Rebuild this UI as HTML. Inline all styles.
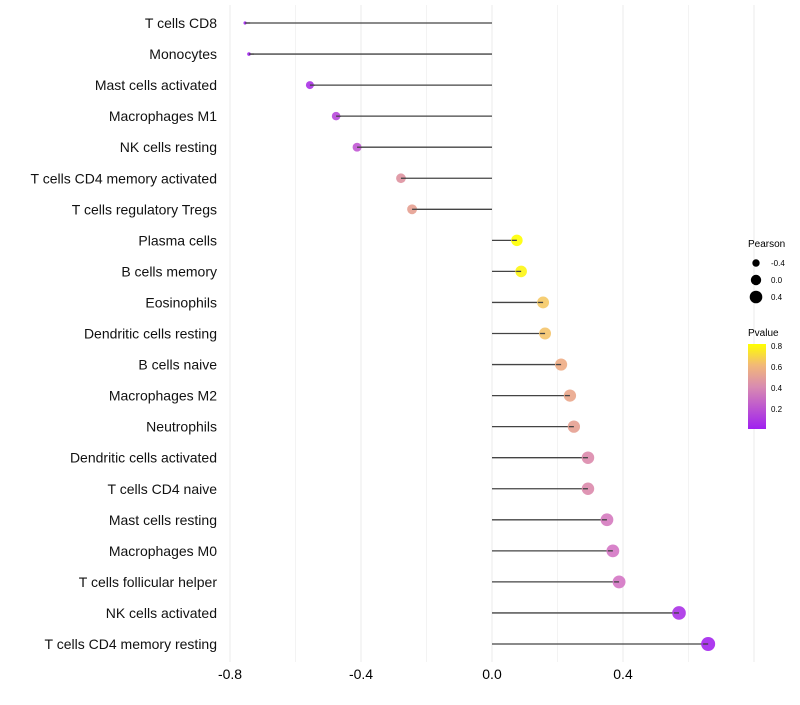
<!DOCTYPE html>
<html><head><meta charset="utf-8"><style>body{margin:0;background:#fff}svg text{font-family:"Liberation Sans",sans-serif}</style></head>
<body>
<svg id="chart" width="800" height="700">
<defs><linearGradient id="pg" x1="0" y1="1" x2="0" y2="0">
<stop offset="0" stop-color="#A020F0"/><stop offset="0.5" stop-color="#D98CB0"/><stop offset="0.75" stop-color="#F2B878"/><stop offset="1" stop-color="#FFFF00"/></linearGradient></defs>
<g id="grid"></g>
<g id="marks"></g>
<g id="ylab"></g>
<g id="xlab"></g>
<g>
<text x="748" y="247" font-size="10">Pearson</text>
<circle cx="756" cy="263" r="3.7" fill="#000"/><text x="771" y="266" font-size="8">-0.4</text>
<circle cx="756" cy="280" r="5.2" fill="#000"/><text x="771" y="283" font-size="8">0.0</text>
<circle cx="756" cy="297" r="6.3" fill="#000"/><text x="771" y="300" font-size="8">0.4</text>
</g>
<g>
<text x="748" y="336" font-size="10">Pvalue</text>
<rect x="748" y="344" width="18" height="85" fill="url(#pg)"/>
<text x="771" y="349" font-size="8">0.8</text>
<text x="771" y="370" font-size="8">0.6</text>
<text x="771" y="391" font-size="8">0.4</text>
<text x="771" y="412" font-size="8">0.2</text>
</g>
</svg>
<script>
const categories=["T cells CD8","Monocytes","Mast cells activated","Macrophages M1","NK cells resting","T cells CD4 memory activated","T cells regulatory  Tregs ","Plasma cells","B cells memory","Eosinophils","Dendritic cells resting","B cells naive","Macrophages M2","Neutrophils","Dendritic cells activated","T cells CD4 naive","Mast cells resting","Macrophages M0","T cells follicular helper","NK cells activated","T cells CD4 memory resting"];
const pearson=[-0.754,-0.742,-0.556,-0.476,-0.412,-0.278,-0.244,0.076,0.089,0.156,0.162,0.211,0.238,0.250,0.293,0.293,0.351,0.369,0.388,0.571,0.660];
const pvalues=[0.01,0.01,0.08,0.15,0.2,0.45,0.52,0.82,0.8,0.7,0.68,0.58,0.55,0.52,0.4,0.4,0.32,0.3,0.3,0.08,0.04];
const xTicks=[-0.8,-0.4,0.0,0.4];
const NS="http://www.w3.org/2000/svg";
const x=v=>492+v*327.5, y=i=>23+i*31.05;
function mk(t,a,p){const e=document.createElementNS(NS,t);for(const k in a)e.setAttribute(k,a[k]);p.appendChild(e);return e;}
function rad(v){let r2; if(v< -0.556) r2=2.5+(v+0.754)/0.198*13.5; else r2=16+(v+0.556)/1.216*33; return Math.sqrt(Math.max(2,r2));}
const stops=[[0.02,[160,32,240]],[0.3,[212,118,196]],[0.45,[222,146,160]],[0.6,[240,176,128]],[0.72,[246,206,96]],[0.82,[255,255,0]]];
function col(p){p=Math.max(0.02,Math.min(0.82,p));for(let i=0;i<stops.length-1;i++){const[a,ca]=stops[i],[b,cb]=stops[i+1];if(p<=b){const t=(p-a)/(b-a);return`rgb(${ca.map((c,j)=>Math.round(c+(cb[j]-c)*t)).join(',')})`;}}return'#ff0';}
const grid=document.getElementById('grid'),marks=document.getElementById('marks'),yl=document.getElementById('ylab'),xl=document.getElementById('xlab');
for(let v=-0.8;v<=0.81;v+=0.2){const l=mk('line',{x1:x(v),x2:x(v),y1:5,y2:662,stroke:'#ebebeb','stroke-width':Math.abs(Math.round(v*10))%4===0?1:0.6},grid);

}
xTicks.forEach(t=>{const e=mk('text',{x:x(t),y:679,'font-size':14,'text-anchor':'middle',fill:'#000'},xl);e.textContent=t.toFixed(1);

});
categories.forEach((c,i)=>{
const l=mk('line',{x1:x(0),x2:x(pearson[i]),y1:y(i),y2:y(i),stroke:'#444','stroke-width':1.3},marks);


const ci=mk('circle',{cx:x(pearson[i]),cy:y(i),r:rad(pearson[i]),fill:col(pvalues[i]),'fill-opacity':0.9},marks);


const l2=mk('line',{x1:x(pearson[i])+(pearson[i]<0?0:-5),x2:x(pearson[i])+(pearson[i]<0?5:0),y1:y(i),y2:y(i),stroke:'#444','stroke-width':1.3},marks);


const t=mk('text',{x:217,y:y(i)+5,'font-size':14,'text-anchor':'end',fill:'#111'},yl);t.textContent=c;


});
</script>
</body></html>
